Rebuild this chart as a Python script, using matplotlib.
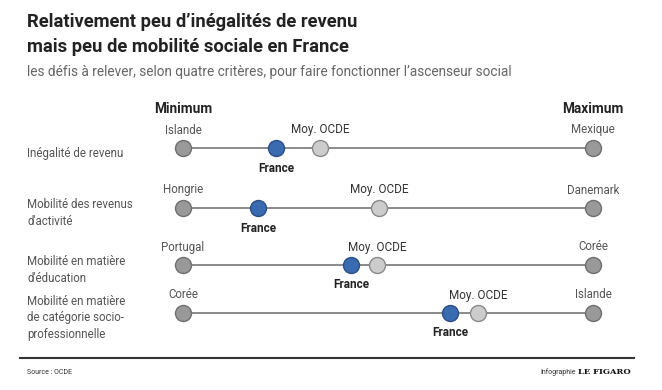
import matplotlib.pyplot as plt

plt.rcParams['font.family'] = ['Roboto', 'DejaVu Sans']

# Données (position relative entre minimum = 0 et maximum = 1)
criteres = ["Inégalité de revenu",
            "Mobilité des revenus\nd'activité",
            "Mobilité en matière\nd'éducation",
            "Mobilité en matière\nde catégorie socio-\nprofessionnelle"]
pays_min = ["Islande", "Hongrie", "Portugal", "Corée"]
pays_max = ["Mexique", "Danemark", "Corée", "Islande"]
france = [0.227, 0.183, 0.410, 0.651]
moy_ocde = [0.334, 0.478, 0.473, 0.720]

W, H = 662, 390
fig = plt.figure(figsize=(W / 100, H / 100), dpi=100)
ax = fig.add_axes([0, 0, 1, 1])
x0, x1 = 183, 593
ax.set_xlim(-x0 / (x1 - x0), (W - x0) / (x1 - x0))
ax.set_ylim(H, 0)
ax.axis('off')

rangees = [148, 208, 265, 313]  # position verticale de chaque ligne (px)

def fx(px):
    return px / W

def fy(py):
    return 1 - py / H

# Titres
fig.text(fx(27), fy(22), "Relativement peu d’inégalités de revenu", fontsize=13.2,
         fontweight='bold', color='#222222', va='center')
fig.text(fx(27), fy(47), "mais peu de mobilité sociale en France", fontsize=13.2,
         fontweight='bold', color='#222222', va='center')
fig.text(fx(27), fy(72), "les défis à relever, selon quatre critères, pour faire fonctionner l’ascenseur social",
         fontsize=9.8, color='#666666', va='center')

ax.text(0, 109, "Minimum", fontsize=9.8, fontweight='bold', ha='center', va='center', color='#222222')
ax.text(1, 109, "Maximum", fontsize=9.8, fontweight='bold', ha='center', va='center', color='#222222')

for i, y in enumerate(rangees):
    ax.plot([0, 1], [y, y], color='#777777', lw=1.2, zorder=1)
    ax.plot([0, 1], [y, y], 'o', ms=11.5, mfc='#999999', mec='#6f6f6f', mew=1, zorder=2)
    ax.plot(moy_ocde[i], y, 'o', ms=11.5, mfc='#cccccc', mec='#8a8a8a', mew=1, zorder=3)
    ax.plot(france[i], y, 'o', ms=11.5, mfc='#3a6ab0', mec='#2b4f86', mew=1, zorder=4)
    ax.text(0, y - 18, pays_min[i], fontsize=8.3, color='#555555', ha='center', va='center')
    ax.text(1, y - 18, pays_max[i], fontsize=8.3, color='#555555', ha='center', va='center')
    ax.text(moy_ocde[i], y - 18, "Moy. OCDE", fontsize=8.5, color='#333333', ha='center', va='center')
    ax.text(france[i], y + 20, "France", fontsize=8.5, fontweight='bold', color='#222222',
            ha='center', va='center')
    ax.text(-(x0 - 27) / (x1 - x0), y + 5, criteres[i], fontsize=8.3,
            color='#555555', ha='left', va='center', linespacing=1.35)

# Pied de page
fig.add_artist(plt.Line2D([fx(20), fx(634)], [fy(358), fy(358)], color='#333333', lw=1.5))
fig.text(fx(27), fy(372), "Source : OCDE", fontsize=5, color='#333333', va='center')
fig.text(fx(576), fy(372), "Infographie", fontsize=5, color='#333333', va='center', ha='right')
fig.text(fx(578), fy(372), "LE FIGARO", fontsize=6, fontweight='bold', family='DejaVu Serif',
         color='#111111', va='center', ha='left')

fig.savefig('out.png', dpi=100, facecolor='white')
